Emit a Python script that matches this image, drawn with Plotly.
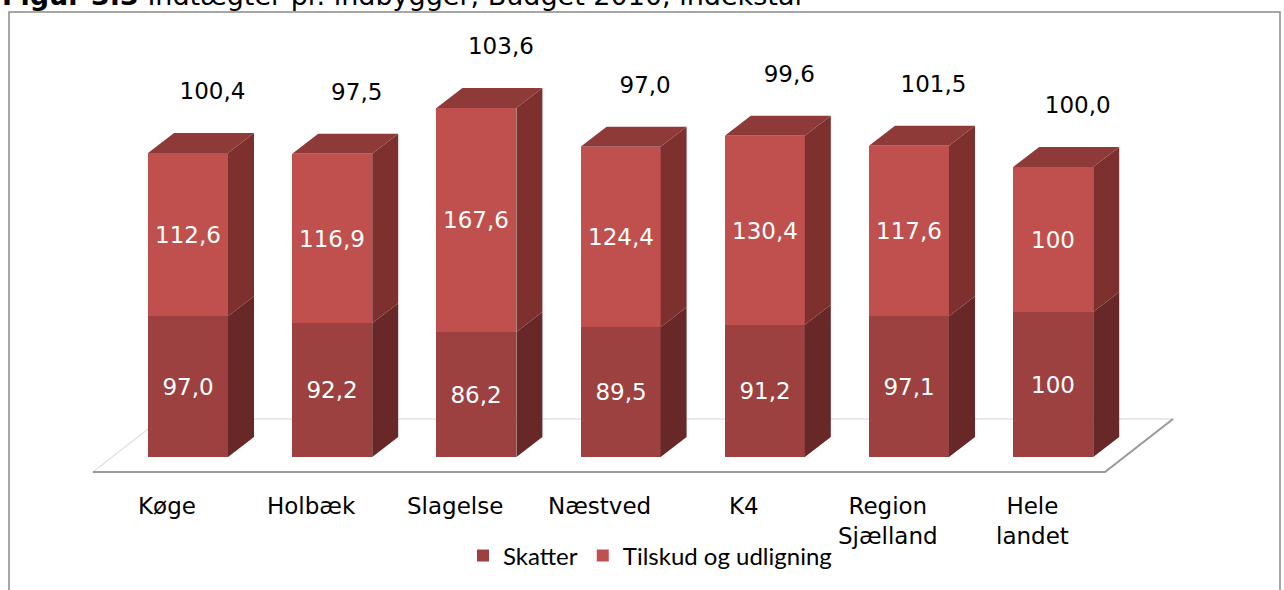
import plotly.graph_objects as go

# ---------------- data ----------------
categories = ["Køge", "Holbæk", "Slagelse", "Næstved", "K4", "Region<br>Sjælland", "Hele<br>landet"]
skatter = [97.0, 92.2, 86.2, 89.5, 91.2, 97.1, 100.0]
tilskud = [112.6, 116.9, 154.5, 124.4, 130.4, 117.6, 100.0]   # bar heights as drawn
skatter_labels = ["97,0", "92,2", "86,2", "89,5", "91,2", "97,1", "100"]
tilskud_labels = ["112,6", "116,9", "167,6", "124,4", "130,4", "117,6", "100"]
total_labels = ["100,4", "97,5", "103,6", "97,0", "99,6", "101,5", "100,0"]
title_bold = "Figur 3.3"
title_rest = "Indtægter pr. indbygger, Budget 2010, indekstal"

# ---------------- styling / geometry ----------------
W, H = 1284, 590
ML, MR, MT, MB = 60, 54, 30, 100
XR = [-0.8877, 7.226]
YR = [-22.76, 294.48]
BAR_W = 0.5548
DX = 0.1803      # depth offset (x units)
DY = 13.79       # depth offset (y units)

C_SK_FRONT = "#9D4140"
C_SK_SIDE = "#682828"
C_TI_FRONT = "#C0504D"
C_TI_SIDE = "#7E302F"
C_TOP = "#8E3A39"
FONT = "DejaVu Sans"

x = list(range(len(categories)))
fig = go.Figure()

# front faces
fig.add_trace(go.Bar(
    x=x, y=skatter, name="Skatter", width=BAR_W,
    marker=dict(color=C_SK_FRONT, line=dict(width=0)),
    text=skatter_labels, textposition="inside", insidetextanchor="middle",
    textangle=0, constraintext="none",
    textfont=dict(family=FONT, size=23, color="white"), hoverinfo="skip"))
fig.add_trace(go.Bar(
    x=x, y=tilskud, name="Tilskud og udligning", width=BAR_W,
    marker=dict(color=C_TI_FRONT, line=dict(width=0)),
    text=tilskud_labels, textposition="inside", insidetextanchor="middle",
    textangle=0, constraintext="none",
    textfont=dict(family=FONT, size=23, color="white"), hoverinfo="skip"))


def side_faces(bases, heights):
    xs, ys = [], []
    for i, (b, h) in enumerate(zip(bases, heights)):
        xr = i + BAR_W / 2
        xs += [xr, xr + DX, xr + DX, xr, xr, None]
        ys += [b, b + DY, b + h + DY, b + h, b, None]
    return xs, ys


zeros = [0] * len(skatter)
sx, sy = side_faces(zeros, skatter)
fig.add_trace(go.Scatter(x=sx, y=sy, mode="lines", fill="toself", fillcolor=C_SK_SIDE,
                         line=dict(width=0, color=C_SK_SIDE), showlegend=False, hoverinfo="skip"))
tx, ty = side_faces(skatter, tilskud)
fig.add_trace(go.Scatter(x=tx, y=ty, mode="lines", fill="toself", fillcolor=C_TI_SIDE,
                         line=dict(width=0, color=C_TI_SIDE), showlegend=False, hoverinfo="skip"))

# top faces
topx, topy = [], []
for i, (a, b) in enumerate(zip(skatter, tilskud)):
    top = a + b
    xl, xr = i - BAR_W / 2, i + BAR_W / 2
    topx += [xl, xl + DX, xr + DX, xr, xl, None]
    topy += [top, top + DY, top + DY, top, top, None]
fig.add_trace(go.Scatter(x=topx, y=topy, mode="lines", fill="toself", fillcolor=C_TOP,
                         line=dict(width=0, color=C_TOP), showlegend=False, hoverinfo="skip"))

# total labels above bars
fig.add_trace(go.Scatter(
    x=[i + 0.17 for i in x], y=[a + b + 41 for a, b in zip(skatter, tilskud)],
    mode="text", text=total_labels, textfont=dict(family=FONT, size=23, color="black"),
    showlegend=False, hoverinfo="skip", cliponaxis=False))

# category labels
for i, c in enumerate(categories):
    fig.add_annotation(x=i - 0.146, y=YR[0], xref="x", yref="y", text=c, showarrow=False,
                       xanchor="center", yanchor="top", yshift=-1,
                       font=dict(family=FONT, size=23, color="black"))

# floor
fx0, fx1 = -0.659, 6.359
fy0 = -10.34
fdx, fdy = 0.4716, 36.55
fig.add_shape(type="path", xref="x", yref="y", layer="below",
              path=f"M{fx0},{fy0} L{fx1},{fy0} L{fx1 + fdx},{fy0 + fdy} L{fx0 + fdx},{fy0 + fdy} Z",
              fillcolor="white", line=dict(color="#E3E3E3", width=1.5))
fig.add_shape(type="path", xref="x", yref="y", layer="below",
              path=f"M{fx0},{fy0} L{fx1},{fy0} L{fx1 + fdx},{fy0 + fdy}",
              line=dict(color="#9A9A9A", width=2))

# outer frame
pw, ph = W - ML - MR, H - MT - MB
fig.add_shape(type="rect", xref="paper", yref="paper",
              x0=(9 - ML) / pw, x1=(1280 - ML) / pw,
              y0=(H - MB - 620) / ph, y1=(H - MB - 12) / ph,
              line=dict(color="#8A8A8A", width=1.5), fillcolor="rgba(0,0,0,0)", layer="below")

# title (partly cut off at the top of the page)
fig.add_annotation(xref="paper", yref="paper", x=(0 - ML) / pw, y=(H - MB - 13) / ph,
                   xanchor="left", yanchor="bottom", showarrow=False,
                   text=f"<b>{title_bold}</b> {title_rest}",
                   font=dict(family=FONT, size=27, color="black"))

fig.update_layout(
    width=W, height=H, margin=dict(l=ML, r=MR, t=MT, b=MB),
    barmode="stack", bargap=0, plot_bgcolor="white", paper_bgcolor="white",
    xaxis=dict(range=XR, visible=False, fixedrange=True),
    yaxis=dict(range=YR, visible=False, fixedrange=True),
    showlegend=True,
    legend=dict(orientation="h", x=(650 - ML) / pw, xanchor="center",
                y=(H - MB - 556) / ph, yanchor="middle",
                font=dict(family="Lato", size=24, color="black"),
                bgcolor="rgba(0,0,0,0)", itemclick=False, itemdoubleclick=False,
                traceorder="normal", itemwidth=30),
)

fig.write_html("out.html", config={"displayModeBar": False},
               post_script="document.body.style.margin='0';document.body.style.overflow='hidden';")
